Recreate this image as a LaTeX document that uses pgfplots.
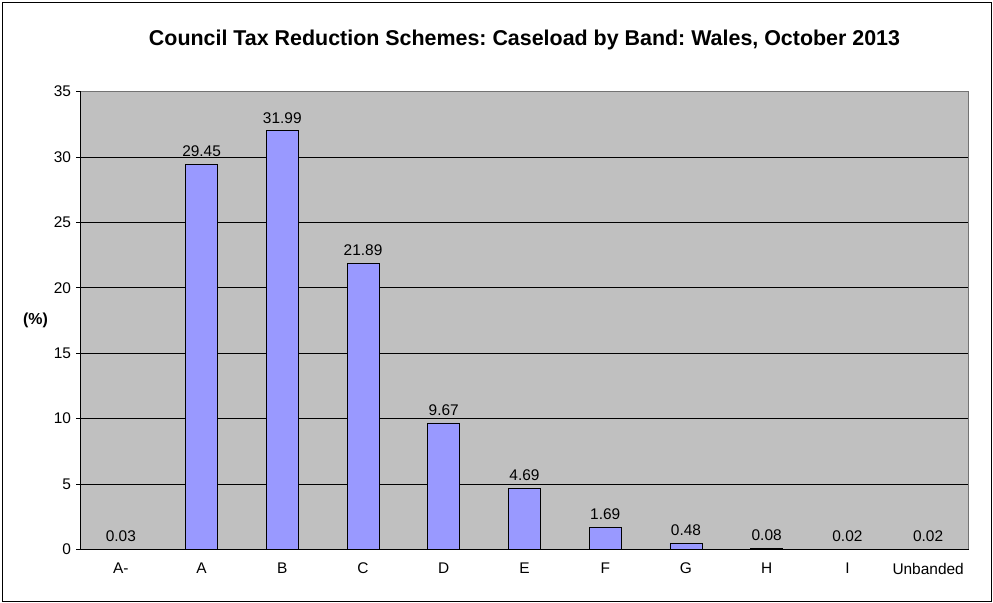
\documentclass[border=0pt]{standalone}
\usepackage{pgfplots}
\pgfplotsset{compat=1.18}
\usepackage{fontspec}
\setmainfont{Liberation Sans}
\frenchspacing
\definecolor{barblue}{HTML}{9999FF}
\definecolor{plotgray}{HTML}{C0C0C0}
\begin{document}
\begin{tikzpicture}
\useasboundingbox (0,0) rectangle (993bp,603bp);
\draw[black,line width=0.8bp] (2bp,2bp) rectangle (991bp,601bp);
\begin{axis}[
  at={(80.5bp,53.5bp)}, anchor=south west,
  scale only axis, width=888bp, height=458bp,
  xmin=-0.5, xmax=10.5, ymin=0, ymax=35,
  axis background/.style={fill=plotgray},
  axis line style={draw=gray!90!black, line width=0.6bp},
  ybar, bar width=32bp,
  xtick={0,...,10},
  xticklabels={A-,A,B,C,D,E,F,G,H,I,Unbanded},
  major x tick style={draw=none},
  extra x ticks={-0.5,0.5,1.5,2.5,3.5,4.5,5.5,6.5,7.5,8.5,9.5,10.5},
  extra x tick labels={},
  extra x tick style={major tick length=4bp, tick align=outside, tick style={black, line width=0.6bp}, grid=none},
  ytick={0,5,...,35},
  tick align=outside, major tick length=4bp,
  ymajorgrids, grid style={black, line width=0.6bp},
  y tick style={black, line width=0.6bp},
  xtick pos=bottom, ytick pos=left,
  tick label style={font=\fontsize{15.5}{17}\selectfont},
  /pgf/number format/assume math mode=true,
  xticklabel style={yshift=-6bp},
  yticklabel style={xshift=-2bp},
  nodes near coords,
  nodes near coords style={font=\fontsize{15.5}{17}\selectfont, yshift=4bp, /pgf/number format/.cd, fixed, fixed zerofill, precision=2, assume math mode=true},
  title={\bfseries Council Tax Reduction Schemes: Caseload by Band: Wales, October 2013},
  title style={font=\fontsize{21.5}{23}\selectfont, at={(0.5,1)}, yshift=32bp},
  ylabel={\bfseries (\%)},
  ylabel style={rotate=-90, font=\fontsize{16}{18}\selectfont, at={(axis description cs:0,0.5)}, anchor=center, xshift=-45bp},
  clip=false,
  extra description/.code={
    \draw[black, line width=0.8bp] (axis cs:-0.5,0) -- (axis cs:-0.5,35);
    \draw[black, line width=0.8bp] (axis cs:-0.5,0) -- (axis cs:10.5,0);
  },
]
\addplot[draw=black, fill=barblue, line width=0.8bp] coordinates {
(0,0.03) (1,29.45) (2,31.99) (3,21.89) (4,9.67) (5,4.69) (6,1.69) (7,0.48) (8,0.08) (9,0.02) (10,0.02)
};
\end{axis}
\end{tikzpicture}
\end{document}
